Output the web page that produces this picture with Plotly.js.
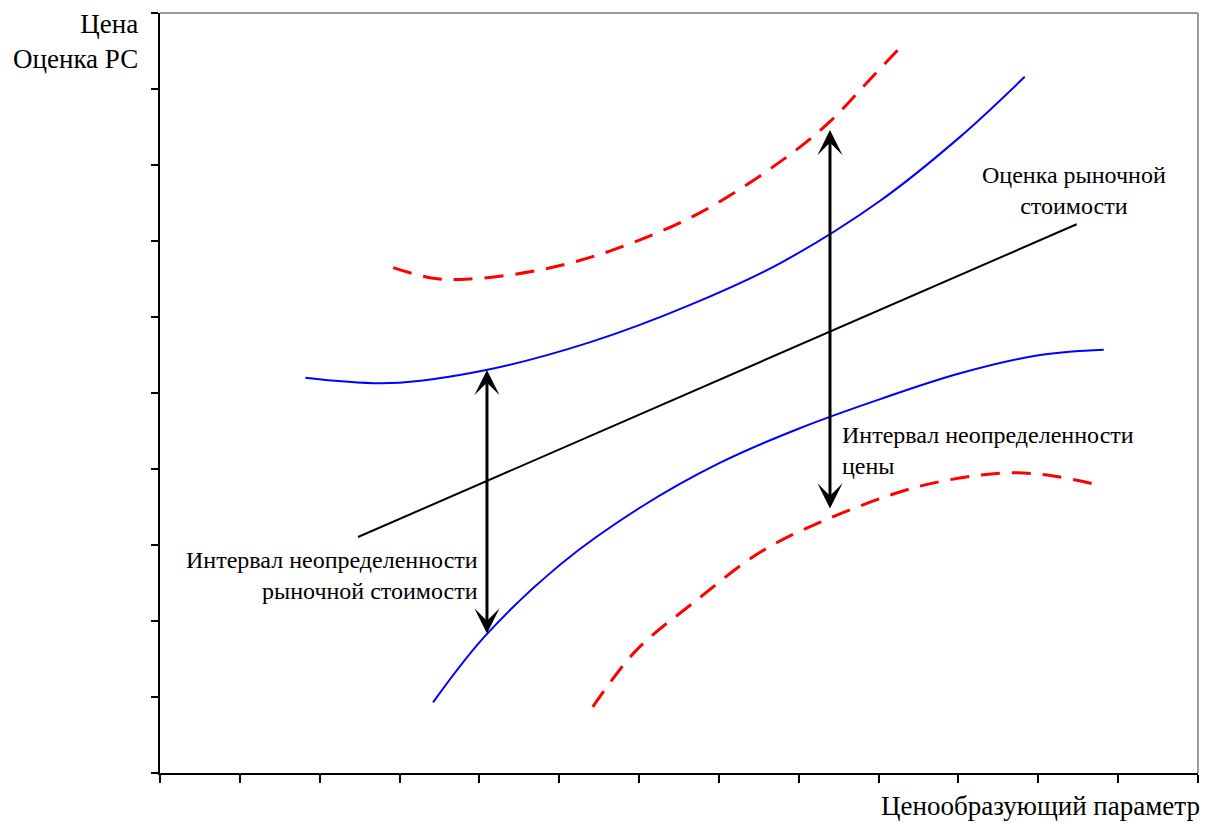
<!DOCTYPE html>
<html>
<head>
<meta charset="utf-8">
<script src="https://cdn.plot.ly/plotly-3.0.1.min.js"></script>
<style>html,body{margin:0;padding:0;background:#fff;}#chart{width:1207px;height:825px;}</style>
</head>
<body>
<div id="chart"></div>
<script>
// Market value estimate (straight line)
const estX = [2.48, 11.48];
const estY = [3.105, 7.22];

// Upper blue boundary (market value uncertainty)
const upBlueX = [1.82, 2.88, 4.07, 5.39, 6.64, 7.77, 9.02, 10.02, 10.83];
const upBlueY = [5.20, 5.13, 5.30, 5.67, 6.16, 6.71, 7.53, 8.37, 9.16];

// Lower blue boundary
const loBlueX = [3.42, 4.07, 5.01, 6.01, 7.01, 8.02, 9.02, 10.02, 11.02, 11.82];
const loBlueY = [0.93, 1.80, 2.74, 3.49, 4.08, 4.54, 4.92, 5.26, 5.50, 5.57];

// Upper red dashed boundary (price uncertainty)
const upRedX = [2.92, 3.42, 3.88, 4.76, 5.64, 6.76, 7.83, 8.39, 8.85, 9.31];
const upRedY = [6.65, 6.51, 6.50, 6.62, 6.87, 7.37, 8.09, 8.57, 9.08, 9.59];

// Lower red dashed boundary
const loRedX = [5.42, 5.97, 6.68, 7.51, 8.27, 9.43, 10.27, 10.68, 11.11, 11.80];
const loRedY = [0.87, 1.62, 2.24, 2.90, 3.30, 3.75, 3.92, 3.95, 3.92, 3.78];

// Double-headed arrows: x, top, bottom
const arrowX = [4.095, 8.391];
const arrowTop = [5.303, 8.461];
const arrowBottom = [1.816, 3.461];

// Texts
const yTitle = 'Цена<br>Оценка РС';
const xTitle = 'Ценообразующий параметр';
const labelEstimate = 'Оценка рыночной<br>стоимости';
const labelMarket = 'Интервал неопределенности<br>рыночной стоимости';
const labelPrice = 'Интервал неопределенности<br>цены';

const FONT = 'Liberation Serif';
const axFont = {family: FONT, size: 27, color: '#000'};
const lblFont = {family: FONT, size: 24, color: '#000'};

const traces = [
  {x: upRedX, y: upRedY, mode: 'lines', line: {color: '#ff0000', width: 3, dash: '19px,12px', shape: 'spline', smoothing: 1}},
  {x: loRedX, y: loRedY, mode: 'lines', line: {color: '#ff0000', width: 3, dash: '19px,12px', shape: 'spline', smoothing: 1}},
  {x: upBlueX, y: upBlueY, mode: 'lines', line: {color: '#0000ff', width: 2, shape: 'spline', smoothing: 1}},
  {x: loBlueX, y: loBlueY, mode: 'lines', line: {color: '#0000ff', width: 2, shape: 'spline', smoothing: 1}},
  {x: estX, y: estY, mode: 'lines', line: {color: '#000', width: 2}}
];

const annotations = [];
for (let i = 0; i < arrowX.length; i++) {
  annotations.push({
    x: arrowX[i], y: arrowTop[i], ax: arrowX[i], ay: arrowBottom[i],
    xref: 'x', yref: 'y', axref: 'x', ayref: 'y',
    text: '', showarrow: true, arrowhead: 3, startarrowhead: 3,
    arrowside: 'end+start', arrowwidth: 3, arrowsize: 1.4, startarrowsize: 1.4,
    arrowcolor: '#000', standoff: 0, startstandoff: 0
  });
}
annotations.push(
  {xref: 'paper', yref: 'paper', x: 0, y: 1, xanchor: 'right', yanchor: 'top', xshift: -20, yshift: 6,
   text: yTitle, showarrow: false, align: 'right', font: axFont},
  {xref: 'paper', yref: 'paper', x: 1, y: 0, xanchor: 'right', yanchor: 'top', xshift: 4, yshift: -16,
   text: xTitle, showarrow: false, align: 'right', font: axFont},
  {xref: 'x', yref: 'y', x: 11.45, y: 7.67, xanchor: 'center', yanchor: 'middle',
   text: labelEstimate, showarrow: false, align: 'center', font: lblFont},
  {xref: 'x', yref: 'y', x: 4.01, y: 2.6, xanchor: 'right', yanchor: 'middle',
   text: labelMarket, showarrow: false, align: 'right', font: lblFont},
  {xref: 'x', yref: 'y', x: 8.52, y: 4.24, xanchor: 'left', yanchor: 'middle',
   text: labelPrice, showarrow: false, align: 'left', font: lblFont}
);

const layout = {
  width: 1207, height: 825,
  margin: {l: 160, r: 9, t: 13, b: 52, pad: 0},
  paper_bgcolor: '#fff', plot_bgcolor: '#fff',
  showlegend: false,
  font: axFont,
  xaxis: {range: [0, 13], dtick: 1, tick0: 0, ticks: 'outside', ticklen: 8, tickwidth: 2, tickcolor: '#000',
          showticklabels: false, showgrid: false, zeroline: false, showline: true, linecolor: '#000', linewidth: 2, fixedrange: true},
  yaxis: {range: [0, 10], dtick: 1, tick0: 0, ticks: 'outside', ticklen: 7, tickwidth: 2, tickcolor: '#000',
          showticklabels: false, showgrid: false, zeroline: false, showline: true, linecolor: '#000', linewidth: 2, fixedrange: true},
  shapes: [
    {type: 'line', xref: 'paper', yref: 'paper', x0: 0, y0: 1, x1: 1, y1: 1, line: {color: '#999', width: 2}},
    {type: 'line', xref: 'paper', yref: 'paper', x0: 1, y0: 1, x1: 1, y1: 0, line: {color: '#999', width: 2}}
  ],
  annotations: annotations
};

Plotly.newPlot('chart', traces, layout, {displayModeBar: false, staticPlot: true});
</script>
</body>
</html>
